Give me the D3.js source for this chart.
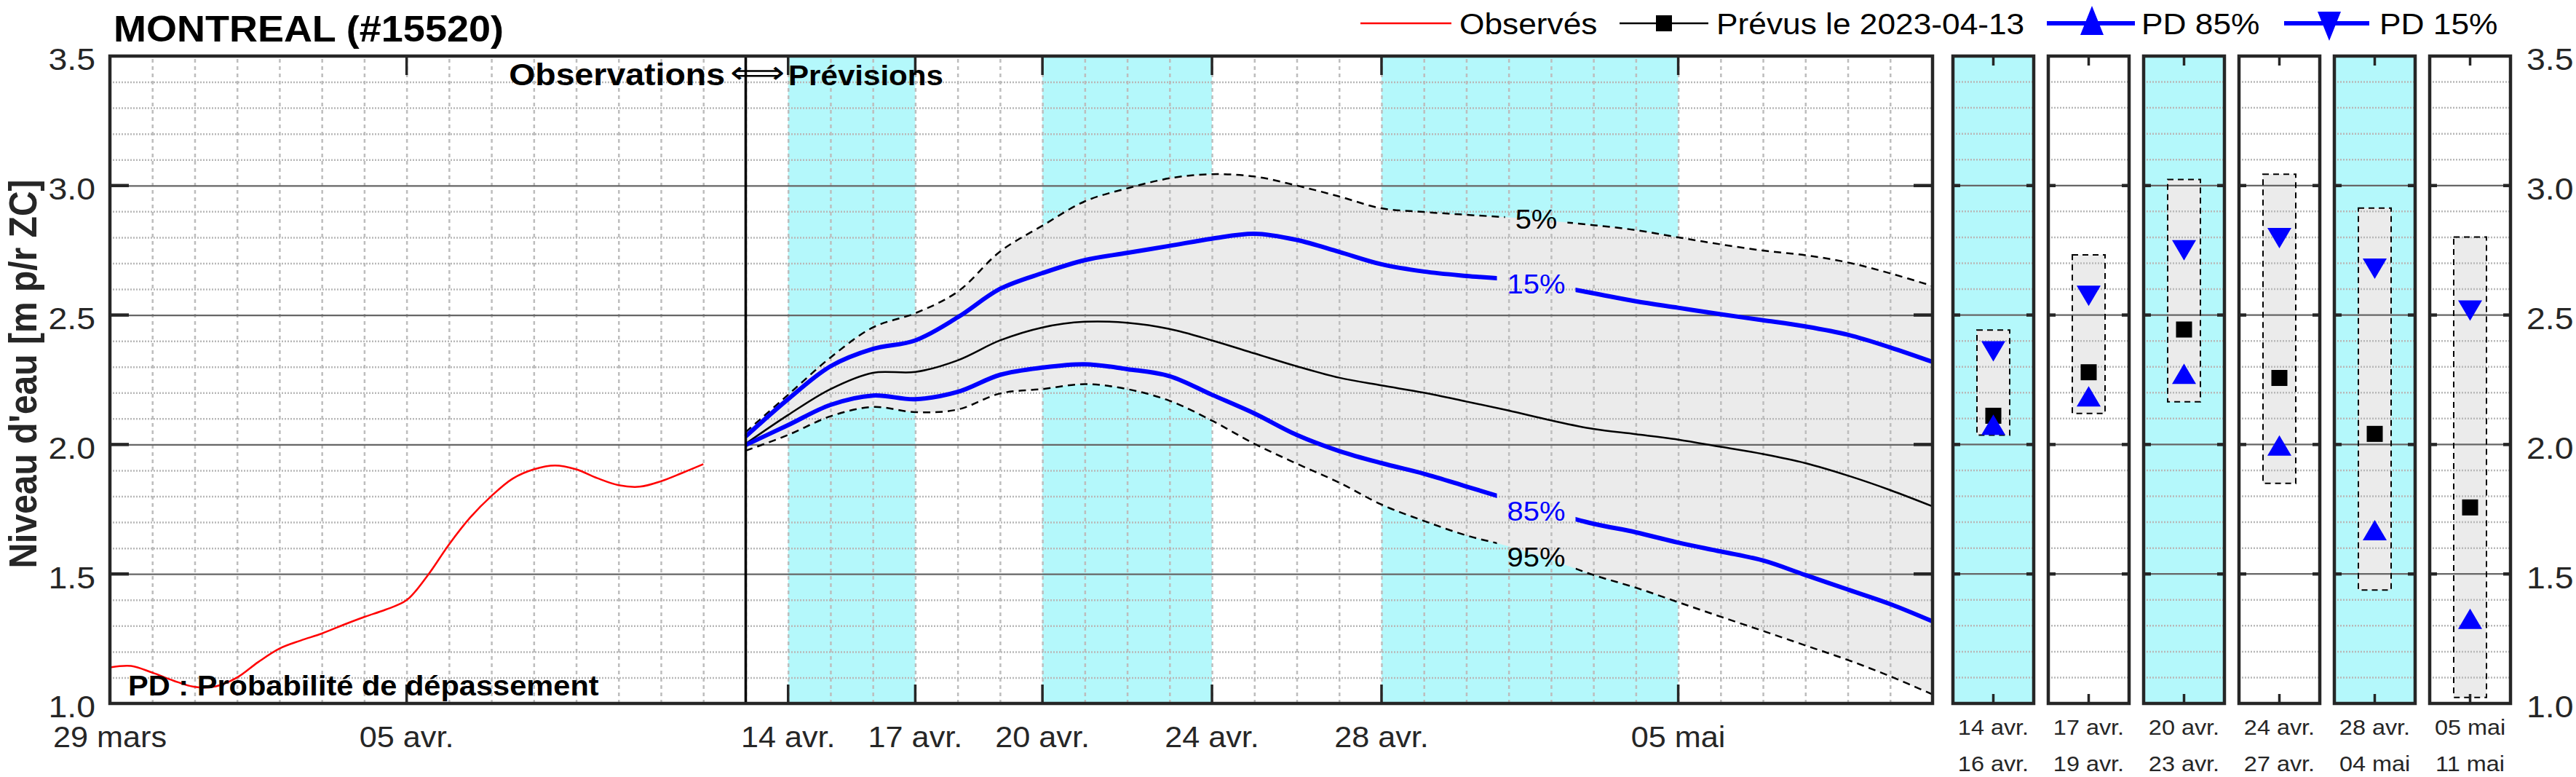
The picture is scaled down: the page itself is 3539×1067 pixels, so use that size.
<!DOCTYPE html>
<html><head><meta charset="utf-8">
<script src="https://cdn.jsdelivr.net/npm/d3@7"></script>
<style>
body{margin:0;background:#fff}
svg{display:block}
text{font-family:"Liberation Sans",Arial,Helvetica,sans-serif}
</style></head>
<body><svg id="c" width="3539" height="1067"></svg>
<script>
// ---------------- DATA ----------------
const obsTimes = ["2023-03-29T00:00","2023-03-29T12:00","2023-03-30T00:00","2023-03-30T12:00","2023-03-31T00:00","2023-03-31T12:00",
  "2023-04-01T00:00","2023-04-01T12:00","2023-04-02T00:00","2023-04-02T12:00","2023-04-03T00:00","2023-04-03T12:00",
  "2023-04-04T00:00","2023-04-04T12:00","2023-04-05T00:00","2023-04-05T12:00","2023-04-06T00:00","2023-04-06T12:00",
  "2023-04-07T00:00","2023-04-07T12:00","2023-04-08T00:00","2023-04-08T12:00","2023-04-09T00:00","2023-04-09T12:00",
  "2023-04-10T00:00","2023-04-10T12:00","2023-04-11T00:00","2023-04-11T12:00","2023-04-12T00:00"];
const obsLevel = [1.139,1.145,1.119,1.088,1.064,1.066,1.100,1.160,1.212,1.243,1.270,1.303,1.334,1.362,1.399,1.495,
  1.614,1.718,1.801,1.868,1.904,1.919,1.904,1.870,1.843,1.837,1.858,1.890,1.924];

const fcDates = ["2023-04-13","2023-04-14","2023-04-15","2023-04-16","2023-04-17","2023-04-18","2023-04-19","2023-04-20",
  "2023-04-21","2023-04-22","2023-04-23","2023-04-24","2023-04-25","2023-04-26","2023-04-27","2023-04-28","2023-04-29",
  "2023-04-30","2023-05-01","2023-05-02","2023-05-03","2023-05-04","2023-05-05","2023-05-06","2023-05-07","2023-05-08",
  "2023-05-09","2023-05-10","2023-05-11"];
const fcP5  = [2.048,2.192,2.336,2.452,2.507,2.590,2.745,2.845,2.939,2.989,3.028,3.044,3.035,3.000,2.958,2.912,2.898,2.887,2.877,2.863,2.847,2.828,2.800,2.773,2.749,2.731,2.703,2.661,2.612];
const fcP15 = [2.031,2.175,2.302,2.369,2.402,2.491,2.601,2.662,2.712,2.740,2.767,2.795,2.814,2.790,2.744,2.696,2.668,2.651,2.638,2.614,2.584,2.553,2.528,2.503,2.480,2.456,2.424,2.375,2.319];
const fcMed = [2.003,2.114,2.214,2.277,2.280,2.325,2.402,2.452,2.474,2.470,2.446,2.402,2.352,2.302,2.258,2.228,2.200,2.166,2.131,2.093,2.060,2.040,2.019,1.991,1.963,1.928,1.880,1.824,1.761];
const fcP85 = [1.998,2.075,2.153,2.189,2.175,2.203,2.269,2.297,2.310,2.291,2.264,2.192,2.120,2.037,1.975,1.928,1.887,1.838,1.788,1.738,1.694,1.661,1.621,1.587,1.552,1.496,1.440,1.384,1.317];
const fcP95 = [1.976,2.037,2.109,2.145,2.125,2.135,2.197,2.214,2.233,2.214,2.169,2.092,2.003,1.926,1.853,1.768,1.705,1.649,1.607,1.555,1.496,1.447,1.391,1.335,1.280,1.224,1.168,1.105,1.035];

const forecastDate = "2023-04-13";
const bandStarts = ["2023-04-14","2023-04-20","2023-04-28"];
const bandEnds   = ["2023-04-17","2023-04-24","2023-05-05"];

const xTickDates  = ["2023-03-29","2023-04-05","2023-04-14","2023-04-17","2023-04-20","2023-04-24","2023-04-28","2023-05-05"];
const xTickLabels = ["29 mars","05 avr.","14 avr.","17 avr.","20 avr.","24 avr.","28 avr.","05 mai"];
const yTicks = [1.0,1.5,2.0,2.5,3.0,3.5];
const yTickLabels = ["1.0","1.5","2.0","2.5","3.0","3.5"];

const pctLabels = ["5%","15%","85%","95%"];
const pctLabelValues = [2.87,2.62,1.744,1.566];
const pctLabelTime = "2023-05-01T15:36";

const panelStart = ["14 avr.","17 avr.","20 avr.","24 avr.","28 avr.","05 mai"];
const panelEnd   = ["16 avr.","19 avr.","23 avr.","27 avr.","04 mai","11 mai"];
const panelShaded = [true,false,true,false,true,false];
const panelP5  = [2.442,2.732,3.023,3.044,2.913,2.801];
const panelP15 = [2.360,2.574,2.750,2.797,2.679,2.517];
const panelMed = [2.111,2.279,2.444,2.257,2.041,1.757];
const panelP85 = [2.076,2.186,2.273,1.996,1.669,1.327];
const panelP95 = [2.036,2.120,2.165,1.850,1.438,1.023];

const legendLabels = ["Observés","Prévus le 2023-04-13","PD 85%","PD 15%"];

// ---------------- LAYOUT ----------------
const CYAN = "#b4f8fb", FANFILL = "#ebebeb", AXC = "#262626", BLUE = "#0000ff";
const SX = 1.08;
const X0 = 151, X1 = 2655, Y0 = 77, Y1 = 966;
const parseT = s => new Date(s.length === 10 ? s + "T00:00:00Z" : s + ":00Z");
const x = d3.scaleUtc().domain([parseT("2023-03-29"), parseT("2023-05-11")]).range([X0, X1]);
const y = d3.scaleLinear().domain([1, 3.5]).range([Y1, Y0]);
const majorY = [1.5, 2.0, 2.5, 3.0];
const minorY = d3.range(11, 35).map(v => v / 10).filter(v => Math.abs(v * 2 - Math.round(v * 2)) > 0.01);

const svg = d3.select("#c");
svg.append("rect").attr("width", 3539).attr("height", 1067).attr("fill", "#fff");

function T(parent, px, py, s, o = {}) {
  const g = parent.append("g").attr("transform", `translate(${px},${py}) scale(${o.sx || SX},1)` + (o.rot ? ` rotate(${o.rot})` : ""));
  const t = g.append("text").text(s)
    .attr("font-size", o.size).attr("font-weight", o.weight || "normal")
    .attr("text-anchor", o.anchor || "start").attr("fill", o.fill || "#000");
  if (o.dy) t.attr("dy", o.dy);
  if (o.family) t.attr("font-family", o.family);
  return t;
}
const triUp = (w, h) => `M0,${-h/2}L${w/2},${h/2}L${-w/2},${h/2}Z`;
const triDown = (w, h) => `M0,${h/2}L${w/2},${-h/2}L${-w/2},${-h/2}Z`;

// ---------------- MAIN PLOT ----------------
const defs = svg.append("defs");
defs.append("clipPath").attr("id", "plotclip").append("rect")
  .attr("x", X0).attr("y", Y0).attr("width", X1 - X0).attr("height", Y1 - Y0);

const main = svg.append("g");
main.append("rect").attr("x", X0).attr("y", Y0).attr("width", X1 - X0).attr("height", Y1 - Y0).attr("fill", "#fff");
bandStarts.forEach((s, i) => {
  main.append("rect").attr("x", x(parseT(s))).attr("y", Y0)
    .attr("width", x(parseT(bandEnds[i])) - x(parseT(s))).attr("height", Y1 - Y0).attr("fill", CYAN);
});

const fc = fcDates.map((d, i) => ({t: parseT(d), p5: fcP5[i], p15: fcP15[i], med: fcMed[i], p85: fcP85[i], p95: fcP95[i]}));
const curve = d3.curveCatmullRom.alpha(0.5);
main.append("path").datum(fc).attr("fill", FANFILL)
  .attr("d", d3.area().x(d => x(d.t)).y0(d => y(d.p95)).y1(d => y(d.p5)).curve(curve));

// grid
const days = d3.utcDay.range(x.domain()[0], x.domain()[1]).slice(1);
main.append("g").attr("transform", `translate(0,${Y1})`)
  .call(d3.axisBottom(x).tickValues(days).tickSize(-(Y1 - Y0)).tickFormat(""))
  .call(g => { g.select(".domain").remove();
    g.selectAll("line").attr("stroke", "#bdbdbd").attr("stroke-width", 2.5).attr("stroke-dasharray", "5,5"); });
main.append("g").attr("transform", `translate(${X0},0)`)
  .call(d3.axisLeft(y).tickValues(minorY).tickSize(-(X1 - X0)).tickFormat(""))
  .call(g => { g.select(".domain").remove();
    g.selectAll("line").attr("stroke", "#b8b8b8").attr("stroke-width", 2.5).attr("stroke-dasharray", "2,2"); });
main.append("g").attr("transform", `translate(${X0},0)`)
  .call(d3.axisLeft(y).tickValues(majorY).tickSize(-(X1 - X0)).tickFormat(""))
  .call(g => { g.select(".domain").remove();
    g.selectAll("line").attr("stroke", "#666").attr("stroke-width", 2.2); });

// percent labels (need sizes for masks)
const lx = x(parseT(pctLabelTime));
const labelG = svg.append("g");
const lblBoxes = pctLabels.map((s, i) => {
  const t = T(labelG, lx, y(pctLabelValues[i]), s, {size: 37, anchor: "middle", dy: "0.36em", fill: (i === 1 || i === 2) ? BLUE : "#000"});
  const w = t.node().getComputedTextLength() * SX;
  return {x: lx - w / 2 - 14, w: w + 28, y: y(pctLabelValues[i]) - 24, h: 48};
});
lblBoxes.forEach((b, i) => {
  const m = defs.append("mask").attr("id", "m" + i).attr("maskUnits", "userSpaceOnUse")
    .attr("x", 0).attr("y", 0).attr("width", 3539).attr("height", 1067);
  m.append("rect").attr("x", 0).attr("y", 0).attr("width", 3539).attr("height", 1067).attr("fill", "#fff");
  m.append("rect").attr("x", b.x).attr("y", b.y).attr("width", b.w).attr("height", b.h).attr("fill", "#000");
});

const lines = main.append("g").attr("clip-path", "url(#plotclip)");
const lineOf = key => d3.line().x(d => x(d.t)).y(d => y(d[key])).curve(curve);
lines.append("g").attr("mask", "url(#m0)").append("path").datum(fc).attr("d", lineOf("p5"))
  .attr("fill", "none").attr("stroke", "#000").attr("stroke-width", 2.5).attr("stroke-dasharray", "10,7");
lines.append("g").attr("mask", "url(#m3)").append("path").datum(fc).attr("d", lineOf("p95"))
  .attr("fill", "none").attr("stroke", "#000").attr("stroke-width", 2.5).attr("stroke-dasharray", "10,7");
lines.append("path").datum(fc).attr("d", lineOf("med"))
  .attr("fill", "none").attr("stroke", "#000").attr("stroke-width", 2.5);
lines.append("g").attr("mask", "url(#m1)").append("path").datum(fc).attr("d", lineOf("p15"))
  .attr("fill", "none").attr("stroke", BLUE).attr("stroke-width", 6);
lines.append("g").attr("mask", "url(#m2)").append("path").datum(fc).attr("d", lineOf("p85"))
  .attr("fill", "none").attr("stroke", BLUE).attr("stroke-width", 6);
const obs = obsTimes.map((d, i) => ({t: parseT(d), v: obsLevel[i]}));
lines.append("path").datum(obs)
  .attr("d", d3.line().x(d => x(d.t)).y(d => y(d.v)).curve(curve))
  .attr("fill", "none").attr("stroke", "#ff0000").attr("stroke-width", 2.5);
labelG.raise();

// divider
main.append("line").attr("x1", x(parseT(forecastDate))).attr("x2", x(parseT(forecastDate)))
  .attr("y1", Y0).attr("y2", Y1).attr("stroke", "#000").attr("stroke-width", 3.5);

// frame
const frame = svg.append("g");
frame.append("rect").attr("x", X0).attr("y", Y0).attr("width", X1 - X0).attr("height", Y1 - Y0)
  .attr("fill", "none").attr("stroke", AXC).attr("stroke-width", 4.5);
xTickDates.slice(1).forEach(d => {
  const xx = x(parseT(d));
  frame.append("line").attr("x1", xx).attr("x2", xx).attr("y1", Y1).attr("y2", Y1 - 26).attr("stroke", AXC).attr("stroke-width", 3.5);
  frame.append("line").attr("x1", xx).attr("x2", xx).attr("y1", Y0).attr("y2", Y0 + 26).attr("stroke", AXC).attr("stroke-width", 3.5);
});
majorY.forEach(v => {
  frame.append("line").attr("x1", X0).attr("x2", X0 + 26).attr("y1", y(v)).attr("y2", y(v)).attr("stroke", AXC).attr("stroke-width", 4.5);
  frame.append("line").attr("x1", X1 - 26).attr("x2", X1).attr("y1", y(v)).attr("y2", y(v)).attr("stroke", AXC).attr("stroke-width", 4.5);
});

// axis labels
xTickDates.forEach((d, i) => T(svg, x(parseT(d)), 1026, xTickLabels[i], {size: 40, anchor: "middle", fill: AXC}));
yTicks.forEach((v, i) => T(svg, 131, y(v) + 4, yTickLabels[i], {size: 43, anchor: "end", dy: "0.36em", fill: AXC}));
yTicks.forEach((v, i) => T(svg, 3471, y(v) + 4, yTickLabels[i], {size: 43, anchor: "start", dy: "0.36em", fill: AXC}));
T(svg, 50, (Y0 + Y1) / 2 - 8, "Niveau d'eau [m p/r ZC]", {size: 48, weight: "bold", anchor: "middle", rot: -90, fill: AXC, sx: 1.12});

// titles & annotations
T(svg, 156, 57, "MONTREAL (#15520)", {size: 50, weight: "bold"});
T(svg, 996, 117, "Observations", {size: 43, weight: "bold", anchor: "end"});
T(svg, 1041, 114, "\u27FA", {size: 42, anchor: "middle", family: "DejaVu Sans", sx: 1.25});
T(svg, 1083, 117, "Prévisions", {size: 39, weight: "bold"});
T(svg, 176, 955, "PD : Probabilité de dépassement", {size: 38.5, weight: "bold"});

// ---------------- LEGEND ----------------
const leg = svg.append("g");
const LY = 32, LB = 47;
leg.append("line").attr("x1", 1869).attr("x2", 1994).attr("y1", LY).attr("y2", LY).attr("stroke", "#ff0000").attr("stroke-width", 2.5);
T(leg, 2005, LB, legendLabels[0], {size: 41});
leg.append("line").attr("x1", 2225).attr("x2", 2347).attr("y1", LY).attr("y2", LY).attr("stroke", "#000").attr("stroke-width", 2.5);
leg.append("rect").attr("x", 2286 - 11).attr("y", LY - 11).attr("width", 22).attr("height", 22).attr("fill", "#000");
T(leg, 2358, LB, legendLabels[1], {size: 41});
leg.append("line").attr("x1", 2812).attr("x2", 2933).attr("y1", LY).attr("y2", LY).attr("stroke", BLUE).attr("stroke-width", 6);
leg.append("path").attr("transform", `translate(2874,${LY - 4})`).attr("d", triUp(32, 40)).attr("fill", BLUE);
T(leg, 2942, LB, legendLabels[2], {size: 41});
leg.append("line").attr("x1", 3138).attr("x2", 3255).attr("y1", LY).attr("y2", LY).attr("stroke", BLUE).attr("stroke-width", 6);
leg.append("path").attr("transform", `translate(3200,${LY + 4})`).attr("d", triDown(32, 40)).attr("fill", BLUE);
T(leg, 3269, LB, legendLabels[3], {size: 41});

// ---------------- SMALL PANELS ----------------
const PX0 = 2683, PSTEP = 131, PW = 111;
panelStart.forEach((s, i) => {
  const px = PX0 + i * PSTEP, cx = px + PW / 2;
  const g = svg.append("g");
  g.append("rect").attr("x", px).attr("y", Y0).attr("width", PW).attr("height", Y1 - Y0)
    .attr("fill", panelShaded[i] ? CYAN : "#fff");
  g.append("rect").attr("x", cx - 22.5).attr("y", y(panelP5[i])).attr("width", 45)
    .attr("height", y(panelP95[i]) - y(panelP5[i])).attr("fill", FANFILL);
  minorY.forEach(v => g.append("line").attr("x1", px).attr("x2", px + PW).attr("y1", y(v)).attr("y2", y(v))
    .attr("stroke", "#b8b8b8").attr("stroke-width", 2.5).attr("stroke-dasharray", "2,2"));
  majorY.forEach(v => g.append("line").attr("x1", px).attr("x2", px + PW).attr("y1", y(v)).attr("y2", y(v))
    .attr("stroke", "#666").attr("stroke-width", 2.2));
  g.append("rect").attr("x", cx - 22.5).attr("y", y(panelP5[i])).attr("width", 45)
    .attr("height", y(panelP95[i]) - y(panelP5[i])).attr("fill", "none")
    .attr("stroke", "#000").attr("stroke-width", 2).attr("stroke-dasharray", "8,6");
  g.append("rect").attr("x", cx - 11).attr("y", y(panelMed[i]) - 11).attr("width", 22).attr("height", 22).attr("fill", "#000");
  g.append("path").attr("transform", `translate(${cx},${y(panelP85[i])})`).attr("d", triUp(33, 28)).attr("fill", BLUE);
  g.append("path").attr("transform", `translate(${cx},${y(panelP15[i])})`).attr("d", triDown(33, 28)).attr("fill", BLUE);
  g.append("rect").attr("x", px).attr("y", Y0).attr("width", PW).attr("height", Y1 - Y0)
    .attr("fill", "none").attr("stroke", AXC).attr("stroke-width", 4.5);
  g.append("line").attr("x1", cx).attr("x2", cx).attr("y1", Y0).attr("y2", Y0 + 13).attr("stroke", AXC).attr("stroke-width", 3.5);
  g.append("line").attr("x1", cx).attr("x2", cx).attr("y1", Y1).attr("y2", Y1 - 13).attr("stroke", AXC).attr("stroke-width", 3.5);
  majorY.forEach(v => {
    g.append("line").attr("x1", px).attr("x2", px + 10).attr("y1", y(v)).attr("y2", y(v)).attr("stroke", AXC).attr("stroke-width", 4.5);
    g.append("line").attr("x1", px + PW - 10).attr("x2", px + PW).attr("y1", y(v)).attr("y2", y(v)).attr("stroke", AXC).attr("stroke-width", 4.5);
  });
  T(svg, cx, 1009, s, {size: 30, anchor: "middle", fill: AXC});
  T(svg, cx, 1059, panelEnd[i], {size: 30, anchor: "middle", fill: AXC});
});
</script></body></html>
